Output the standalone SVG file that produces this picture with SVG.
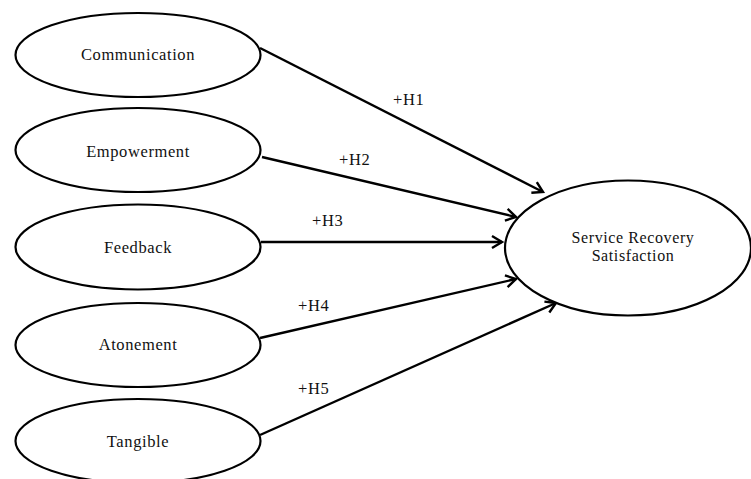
<svg xmlns="http://www.w3.org/2000/svg" width="751" height="479" viewBox="0 0 751 479">
<defs>
<style>
.n ellipse{fill:#fff;stroke:#000;stroke-width:2.2}
text{font-family:"Liberation Serif","Times New Roman",serif;font-size:16.5px;fill:#111;letter-spacing:0.6px}
.c{text-anchor:middle}
.s{font-size:16px}
.e line{stroke:#000;stroke-width:2.4;marker-end:url(#ah)}
</style>
<marker id="ah" markerUnits="userSpaceOnUse" markerWidth="16" markerHeight="16" viewBox="0 0 16 16" refX="13" refY="8" orient="auto">
<path d="M3,2 L13,8 L3,14" fill="none" stroke="#000" stroke-width="2.4" stroke-linejoin="miter"/>
</marker>
</defs>
<rect width="751" height="479" fill="#fff"/>
<g class="e" id="connectors">
<line x1="260" y1="48" x2="543" y2="192"/>
<line x1="262" y1="157" x2="516" y2="217"/>
<line x1="261" y1="242" x2="502" y2="242"/>
<line x1="260" y1="338" x2="516" y2="279"/>
<line x1="260" y1="435" x2="556" y2="303"/>
<text x="393" y="105">+H1</text>
<text x="339" y="165">+H2</text>
<text x="312" y="226">+H3</text>
<text x="298" y="311">+H4</text>
<text x="298" y="394">+H5</text>
</g>
<g class="n" id="communication"><ellipse cx="138" cy="55" rx="122.5" ry="42"/><text class="c" x="138" y="60">Communication</text></g>
<g class="n" id="empowerment"><ellipse cx="138" cy="150" rx="122.5" ry="42"/><text class="c" x="138" y="157">Empowerment</text></g>
<g class="n" id="feedback"><ellipse cx="138" cy="247" rx="122.5" ry="42.5"/><text class="c" x="138" y="253">Feedback</text></g>
<g class="n" id="atonement"><ellipse cx="138" cy="345" rx="122.5" ry="42"/><text class="c" x="138" y="350">Atonement</text></g>
<g class="n" id="tangible"><ellipse cx="138" cy="441" rx="122.5" ry="42"/><text class="c" x="138" y="447">Tangible</text></g>
<g class="n" id="satisfaction"><ellipse cx="628" cy="248" rx="123" ry="67.5"/><text class="c s" x="633" y="243">Service Recovery</text><text class="c s" x="633" y="261">Satisfaction</text></g>
</svg>
